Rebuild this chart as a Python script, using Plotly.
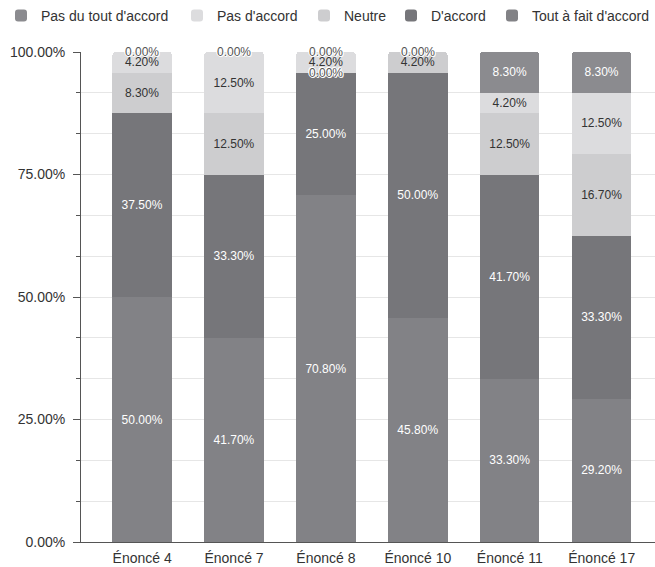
import plotly.graph_objects as go

categories = ["Énoncé 4", "Énoncé 7", "Énoncé 8", "Énoncé 10", "Énoncé 11", "Énoncé 17"]

# stacked bottom -> top
tout_a_fait = [50.0, 41.7, 70.8, 45.8, 33.3, 29.2]
d_accord = [37.5, 33.3, 25.0, 50.0, 41.7, 33.3]
neutre = [8.3, 12.5, 0.0, 4.2, 12.5, 16.7]
pas_d_accord = [4.2, 12.5, 4.2, 0.0, 4.2, 12.5]
pas_du_tout = [0.0, 0.0, 0.0, 0.0, 8.3, 8.3]

# name, values, colour, text colour, legend id, legend left (px)
series = [
    ("Tout à fait d'accord", tout_a_fait, "#828286", "#ffffff", "legend5", 492),
    ("D'accord", d_accord, "#76767a", "#ffffff", "legend4", 391),
    ("Neutre", neutre, "#cdcdcf", "#333333", "legend3", 304),
    ("Pas d'accord", pas_d_accord, "#dcdcde", "#333333", "legend2", 177),
    ("Pas du tout d'accord", pas_du_tout, "#8b8b8f", "#ffffff", "legend", 1),
]

W, H = 655, 567
FONT = "Liberation Sans, Arial, sans-serif"
fig = go.Figure()
cum = [0.0] * len(categories)
zero_labels = {}
legends = {}
for name, vals, color, tcolor, leg, lx in series:
    texts = [f"{v:.2f}%" if v > 0 else "" for v in vals]
    fig.add_trace(go.Bar(
        name=name, x=categories, y=vals, marker=dict(color=color, line=dict(width=0)),
        text=texts, textposition="inside", insidetextanchor="middle", textangle=0,
        constraintext="none",
        textfont=dict(size=12, color=tcolor, family=FONT),
        width=0.645, legend=leg, showlegend=True,
    ))
    legends[leg] = dict(orientation="h", xref="container", x=lx / W, xanchor="left",
                        yref="container", y=1.0, yanchor="top",
                        font=dict(size=14, color="#333333", family=FONT),
                        bgcolor="rgba(0,0,0,0)")
    for i, v in enumerate(vals):
        cum[i] += v
        if v == 0:
            key = (i, round(cum[i], 3))
            if key not in zero_labels:
                zero_labels[key] = True

for (i, yv) in zero_labels:
    fig.add_annotation(
        x=categories[i], y=yv, text="0.00%", showarrow=False,
        font=dict(size=12, color="#555555", family=FONT,
                  shadow="1px 0 0 #fff, -1px 0 0 #fff, 0 1px 0 #fff, 0 -1px 0 #fff, 1px 1px 0 #fff, -1px -1px 0 #fff"),
        yanchor="middle",
    )

fig.update_layout(
    width=W, height=H, showlegend=True,
    barmode="stack", barcornerradius=3,
    plot_bgcolor="white", paper_bgcolor="white",
    margin=dict(l=81, r=0, t=52, b=25),
    font=dict(family=FONT, size=14, color="#333333"),
    xaxis=dict(range=[-0.665, 5.58], showline=True, linecolor="#555555", linewidth=1,
               ticks="", showgrid=False, ticklabelstandoff=3,
               tickfont=dict(size=14, color="#333333")),
    yaxis=dict(range=[0, 100], dtick=25, tickformat=".2f", ticksuffix="%",
               showline=True, linecolor="#555555", linewidth=1,
               ticks="outside", ticklen=7, tickcolor="#555555",
               gridcolor="#e6e6e6", zeroline=False, ticklabelstandoff=5,
               minor=dict(dtick=25 / 3, ticks="outside", ticklen=4, tickcolor="#555555",
                          showgrid=True, gridcolor="#e6e6e6"),
               tickfont=dict(size=14, color="#333333")),
    yaxis2=dict(range=[0, 100], overlaying="y", side="left", dtick=25, showticklabels=False,
                ticks="inside", ticklen=6, tickcolor="#555555", showgrid=False, zeroline=False,
                minor=dict(dtick=25 / 3, ticks="inside", ticklen=4, tickcolor="#555555")),
    **legends,
)

fig.write_html("out.html")
